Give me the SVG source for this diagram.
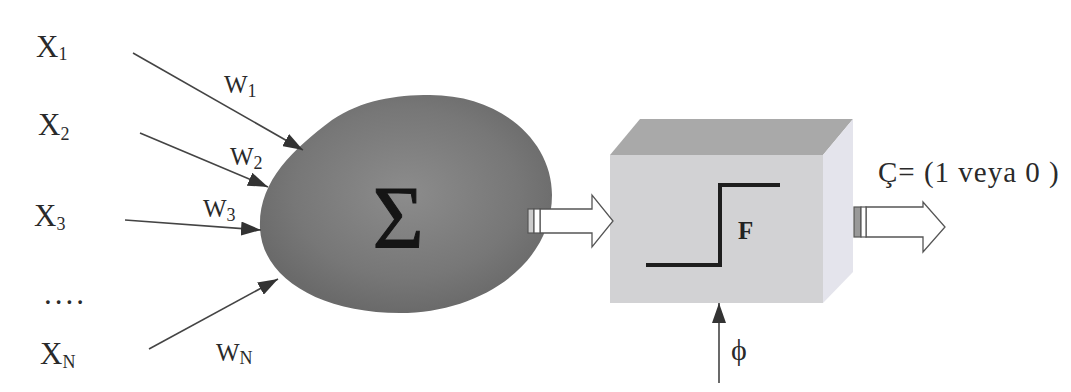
<svg xmlns="http://www.w3.org/2000/svg" width="1071" height="392" viewBox="0 0 1071 392">
<style>
text{font-family:"Liberation Serif","Times New Roman",serif;fill:#2a2a2a}
.x{font-size:31px}
.w{font-size:25px}
.sub{font-size:18px}
.ln{stroke:#444;stroke-width:1.6;fill:none}
.blk{fill:#fff;stroke:#555;stroke-width:1.3}
</style>
<defs>
<marker id="ah" viewBox="0 0 20 14" refX="20" refY="7" markerWidth="20" markerHeight="14" markerUnits="userSpaceOnUse" orient="auto">
<path d="M0,0 L20,7 L0,14 Z" fill="#333"/>
</marker>
<radialGradient id="eg" cx="0.5" cy="0.45" r="0.55">
<stop offset="0" stop-color="#8c8c8c"/>
<stop offset="0.7" stop-color="#777"/>
<stop offset="1" stop-color="#6a6a6a"/>
</radialGradient>
</defs>
<rect width="1071" height="392" fill="#fff"/>

<g id="inputs" font-family="Liberation Serif, Times New Roman, serif">
<text class="x" x="36" y="57">X<tspan class="sub" dy="3">1</tspan></text>
<text class="x" x="38" y="135">X<tspan class="sub" dy="5">2</tspan></text>
<text class="x" x="34" y="226">X<tspan class="sub" dy="4">3</tspan></text>
<text class="x" x="44" y="304" letter-spacing="3">....</text>
<text class="x" x="40" y="364">X<tspan class="sub" dy="4">N</tspan></text>
</g>

<g id="weights" font-family="Liberation Serif, Times New Roman, serif">
<text class="w" x="224" y="93">W<tspan class="sub" dy="4">1</tspan></text>
<text class="w" x="230" y="165">W<tspan class="sub" dy="4">2</tspan></text>
<text class="w" x="203" y="217">W<tspan class="sub" dy="4">3</tspan></text>
<text class="w" x="216" y="361">W<tspan class="sub" dy="3">N</tspan></text>
</g>

<g id="sum">
<path d="M430,95 C500,95 552,140 552,195 C552,265 480,313 400,313 C320,313 262,278 260,228 C258,182 292,150 332,120 C362,100 395,95 430,95 Z" fill="url(#eg)"/>
<text x="398" y="247" text-anchor="middle" font-family="Liberation Serif, Times New Roman, serif" style="font-size:88px;fill:#151515;stroke:#151515;stroke-width:1">Σ</text>
</g>

<g id="activation">
<polygon points="610,155 640,119 853,119 823,155" fill="#a9a9a9"/>
<polygon points="823,155 853,119 853,272 823,303" fill="#e4e4ec"/>
<rect x="610" y="155" width="213" height="148" fill="#d2d2d4"/>
<polyline points="646,265 720,265 720,185 780,185" fill="none" stroke="#1e1e1e" stroke-width="4"/>
<text x="738" y="239" font-family="Liberation Serif, Times New Roman, serif" style="font-size:25px;font-weight:bold;fill:#222">F</text>
</g>

<g id="threshold">
<text x="731" y="360" font-family="Liberation Serif, Times New Roman, serif" style="font-size:30px">ϕ</text>
</g>

<g id="output">
<text x="878" y="182" font-family="Liberation Serif, Times New Roman, serif" style="font-size:29px" letter-spacing="1">Ç= (1 veya 0 )</text>
</g>

<g id="connectors">
<line class="ln" x1="133" y1="53" x2="303" y2="150" marker-end="url(#ah)"/>
<line class="ln" x1="140" y1="133" x2="268" y2="187" marker-end="url(#ah)"/>
<line class="ln" x1="125" y1="220" x2="261" y2="230" marker-end="url(#ah)"/>
<line class="ln" x1="149" y1="349" x2="278" y2="279" marker-end="url(#ah)"/>
<line class="ln" x1="719" y1="383" x2="719" y2="303" marker-end="url(#ah)"/>
<path class="blk" d="M540,209 L592,209 L592,195 L613,221 L592,247 L592,233 L540,233 Z"/>
<rect x="528" y="209" width="6" height="24" fill="#ccc" stroke="#555" stroke-width="1.2"/>
<rect x="534" y="209" width="6" height="24" fill="#fff" stroke="#555" stroke-width="1.2"/>
<path class="blk" d="M866,207 L923,207 L923,202 L945,227 L923,252 L923,237 L866,237 Z"/>
<rect x="854" y="207" width="7" height="30" fill="#999" stroke="#555" stroke-width="1.2"/>
<rect x="861" y="207" width="5" height="30" fill="#fff" stroke="#555" stroke-width="1.2"/>
</g>
</svg>
